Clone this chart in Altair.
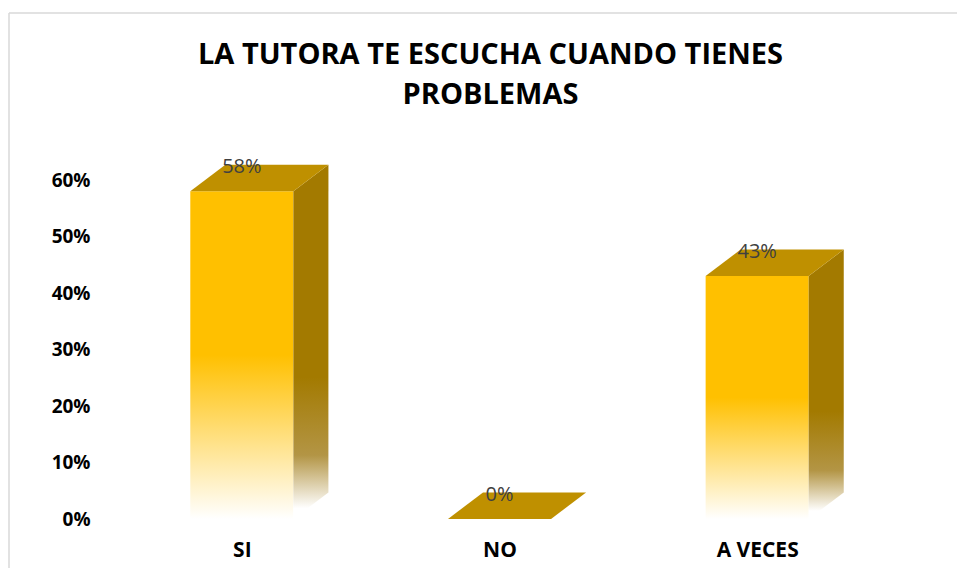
import json
import altair as alt
import pandas as pd

# ---- data ----
CATEGORIES = ["SI", "NO", "A VECES"]
VALUES = [0.58, 0.0, 0.43]
LABELS = ["58%", "0%", "43%"]
Y_TICKS = [0.0, 0.1, 0.2, 0.3, 0.4, 0.5, 0.6]
TITLE = ["LA TUTORA TE ESCUCHA CUANDO TIENES", "PROBLEMAS"]

# ---- 3D style constants (in scale units) ----
HALF_W = 0.2      # half width of the front face (band units)
DEPTH_X = 0.136   # horizontal depth of the 3D box (band units)
DEPTH_Y = 0.047   # vertical depth of the 3D box (value units)

FONT = "Open Sans"

idx = list(range(len(CATEGORIES)))
front = pd.DataFrame({"cat": CATEGORIES, "i": idx, "v": VALUES, "label": LABELS})
front["xl"] = front["i"] - HALF_W
front["xr"] = front["i"] + HALF_W

side_rows, top_rows = [], []
for c, i, v in zip(CATEGORIES, idx, VALUES):
    xl, xr = i - HALF_W, i + HALF_W
    side_rows += [
        {"cat": c, "x": xr, "top": v, "bot": 0.0},
        {"cat": c, "x": xr + DEPTH_X, "top": v + DEPTH_Y, "bot": DEPTH_Y},
    ]
    top_rows += [
        {"cat": c, "x": xl, "top": v, "bot": v},
        {"cat": c, "x": xl + DEPTH_X, "top": v + DEPTH_Y, "bot": v},
        {"cat": c, "x": xr, "top": v + DEPTH_Y, "bot": v},
        {"cat": c, "x": xr + DEPTH_X, "top": v + DEPTH_Y, "bot": v + DEPTH_Y},
    ]
side = pd.DataFrame(side_rows)
topf = pd.DataFrame(top_rows)

xscale = alt.Scale(domain=[-0.5, len(CATEGORIES) - 0.5], nice=False, zero=False)
yscale = alt.Scale(domain=[0, 0.6], nice=False)
xaxis = alt.Axis(
    values=idx, labelExpr=f"{json.dumps(CATEGORIES)}[datum.value]",
    ticks=False, domain=False, grid=False, title=None,
    labelFont=FONT, labelFontSize=21, labelFontWeight="bold", labelColor="#000000",
    labelPadding=20,
)
yaxis = alt.Axis(
    values=Y_TICKS, format=".0%", ticks=False, domain=False, grid=False, title=None,
    labelFont=FONT, labelFontSize=19, labelFontWeight="bold", labelColor="#000000",
    labelPadding=23,
)

front_grad = alt.Gradient(
    gradient="linear", x1=0, x2=0, y1=0, y2=1,
    stops=[alt.GradientStop(offset=0, color="#FFC000"),
           alt.GradientStop(offset=0.5, color="#FFC000"),
           alt.GradientStop(offset=1, color="#FFFFFF")],
)
side_grad = alt.Gradient(
    gradient="linear", x1=0, x2=0, y1=0, y2=1,
    stops=[alt.GradientStop(offset=0, color="#A37A00"),
           alt.GradientStop(offset=0.6, color="#A37A00"),
           alt.GradientStop(offset=0.82, color="#B39545"),
           alt.GradientStop(offset=0.97, color="#FFFFFF")],
)

front_layer = alt.Chart(front).mark_rect(color=front_grad).encode(
    x=alt.X("xl:Q", scale=xscale, axis=xaxis),
    x2="xr:Q",
    y=alt.Y("v:Q", scale=yscale, axis=yaxis),
    y2=alt.datum(0),
)

side_layer = alt.Chart(side).mark_area(color=side_grad).encode(
    x=alt.X("x:Q", scale=xscale, axis=xaxis),
    y=alt.Y("top:Q", scale=yscale, axis=yaxis),
    y2="bot:Q",
    detail="cat:N",
)

top_layer = alt.Chart(topf).mark_area(color="#BF9000").encode(
    x=alt.X("x:Q", scale=xscale, axis=xaxis),
    y=alt.Y("top:Q", scale=yscale, axis=yaxis),
    y2="bot:Q",
    detail="cat:N",
)

text_layer = alt.Chart(front).mark_text(
    font=FONT, fontSize=20, color="#404040", baseline="alphabetic", dy=-18
).encode(
    x=alt.X("i:Q", scale=xscale, axis=xaxis),
    y=alt.Y("v:Q", scale=yscale, axis=yaxis),
    text="label:N",
)

frame_data = pd.DataFrame({"k": [0]})
frame_top = alt.Chart(frame_data).mark_rule(color="#D9D9D9", strokeWidth=1.5).encode(
    x=alt.value(-104), x2=alt.value(860), y=alt.value(-167)
)
frame_left = alt.Chart(frame_data).mark_rule(color="#D9D9D9", strokeWidth=1.5).encode(
    x=alt.value(-104), y=alt.value(-167), y2=alt.value(400)
)

chart = alt.layer(
    frame_top, frame_left, front_layer, side_layer, top_layer, text_layer
).properties(
    width=773, height=339,
    padding={"left": 105, "top": 172, "right": 71, "bottom": 49},
    autosize=alt.AutoSizeParams(type="none"),
    title=alt.TitleParams(
        text=TITLE, font=FONT, fontSize=29, fontWeight="bold", color="#000000",
        anchor="middle", lineHeight=40, offset=-98, dx=-9,
    ),
).configure_view(strokeWidth=0)

chart.save("out.html", embed_options={"renderer": "svg", "actions": False})
